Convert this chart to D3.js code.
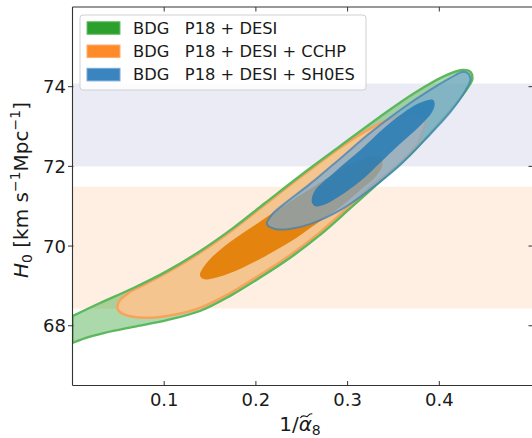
<!DOCTYPE html>
<html><head><meta charset="utf-8">
<script src="https://cdn.jsdelivr.net/npm/d3@7"></script>
<style>
html,body{margin:0;padding:0;background:#fff;}
text{font-family:"DejaVu Sans",sans-serif;fill:#1a1a1a;}
</style></head>
<body>
<svg id="chart" width="532" height="438"></svg>
<script>
// ---------- data ----------
const xTicks = [0.1, 0.2, 0.3, 0.4];
const xTickLabels = ["0.1", "0.2", "0.3", "0.4"];
const yTicks = [68, 70, 72, 74];
const yTickLabels = ["68", "70", "72", "74"];
const xDomain = [0, 0.5];
const yDomain = [66.5, 76];

// H0 priors (bands)
const bandSH0ES = [72.00, 74.08];
const bandCCHP = [68.43, 71.49];

const legendLabels = ["BDG   P18 + DESI", "BDG   P18 + DESI + CCHP", "BDG   P18 + DESI + SH0ES"];

// contour outlines: [1/alpha8, H0]
const greenOuter = [[0,68.24],[0.030,68.57],[0.066,68.94],[0.103,69.37],[0.139,69.87],[0.175,70.45],[0.210,71.08],[0.248,71.76],[0.292,72.51],[0.335,73.24],[0.373,73.84],[0.406,74.27],[0.425,74.42],[0.434,74.37],[0.436,74.19],[0.431,73.97],[0.417,73.54],[0.395,72.96],[0.368,72.29],[0.335,71.61],[0.303,70.95],[0.270,70.28],[0.237,69.70],[0.204,69.20],[0.172,68.75],[0.139,68.37],[0.103,68.14],[0.066,67.97],[0.035,67.82],[0.014,67.69],[0,67.57]];
const orangeOuter = [[0.049,68.44],[0.051,68.62],[0.061,68.82],[0.074,68.98],[0.085,69.11],[0.103,69.33],[0.139,69.83],[0.175,70.41],[0.210,71.04],[0.248,71.72],[0.292,72.47],[0.324,72.94],[0.352,73.24],[0.371,73.29],[0.383,73.21],[0.385,73.06],[0.382,72.89],[0.377,72.59],[0.363,72.21],[0.346,71.86],[0.324,71.48],[0.303,71.03],[0.270,70.35],[0.237,69.77],[0.204,69.27],[0.172,68.82],[0.139,68.45],[0.112,68.28],[0.085,68.20],[0.063,68.24],[0.052,68.34]];
const orangeInner = [[0.139,69.27],[0.146,69.57],[0.166,70.00],[0.194,70.45],[0.226,70.95],[0.259,71.43],[0.292,71.91],[0.314,72.16],[0.328,72.26],[0.336,72.23],[0.338,72.03],[0.330,71.73],[0.314,71.41],[0.292,70.98],[0.264,70.53],[0.237,70.10],[0.204,69.67],[0.177,69.37],[0.155,69.20],[0.143,69.17]];
const blueOuter = [[0.212,70.55],[0.218,70.80],[0.232,71.08],[0.259,71.56],[0.292,72.20],[0.324,72.83],[0.357,73.41],[0.390,73.92],[0.412,74.22],[0.425,74.37],[0.431,74.34],[0.434,74.19],[0.429,73.92],[0.412,73.36],[0.384,72.66],[0.357,72.03],[0.324,71.41],[0.292,70.90],[0.259,70.55],[0.237,70.43],[0.221,70.43]];
const blueInner = [[0.261,71.10],[0.264,71.38],[0.286,71.86],[0.314,72.41],[0.341,72.99],[0.368,73.46],[0.384,73.64],[0.393,73.67],[0.395,73.57],[0.392,73.36],[0.379,73.02],[0.357,72.56],[0.335,72.08],[0.314,71.63],[0.292,71.26],[0.275,71.04],[0.265,71.00]];

// ---------- layout ----------
const svg = d3.select("#chart");
const L = 72.5, R = 533, T = 7, B = 385.5;
const x = d3.scaleLinear().domain(xDomain).range([L, 531]);
const y = d3.scaleLinear().domain(yDomain).range([B, T]);

svg.append("defs").append("clipPath").attr("id", "clip")
  .append("rect").attr("x", L).attr("y", T).attr("width", R - L).attr("height", B - T);
const plot = svg.append("g").attr("clip-path", "url(#clip)");

// bands
plot.append("rect").attr("x", L).attr("width", R - L)
  .attr("y", y(bandSH0ES[1])).attr("height", y(bandSH0ES[0]) - y(bandSH0ES[1]))
  .attr("fill", "rgba(0,0,128,0.08)");
plot.append("rect").attr("x", L).attr("width", R - L)
  .attr("y", y(bandCCHP[1])).attr("height", y(bandCCHP[0]) - y(bandCCHP[1]))
  .attr("fill", "rgba(255,127,14,0.12)");

const closed = d3.line().x(d => x(d[0])).y(d => y(d[1])).curve(d3.curveCatmullRomClosed.alpha(0.5));
const open = d3.line().x(d => x(d[0])).y(d => y(d[1])).curve(d3.curveCatmullRom.alpha(0.5));
const greenPath = open(greenOuter) + "Z";

// green
plot.append("path").attr("d", greenPath).attr("fill", "rgba(44,160,44,0.4)").attr("stroke", "none");
// orange
plot.append("path").attr("d", closed(orangeOuter)).attr("fill", "#f5c590").attr("stroke", "#f8a35c").attr("stroke-width", 2.5);
plot.append("path").attr("d", closed(orangeInner)).attr("fill", "#e5830f").attr("stroke", "none");
// green outline on top
plot.append("path").attr("d", greenPath).attr("fill", "none").attr("stroke", "#5cb85c").attr("stroke-width", 2.4);
// blue
plot.append("path").attr("d", closed(blueOuter)).attr("fill", "rgba(120,170,210,0.7)").attr("stroke", "rgba(60,125,180,0.7)").attr("stroke-width", 2);
plot.append("path").attr("d", closed(blueInner)).attr("fill", "rgba(31,119,180,0.8)").attr("stroke", "none");

// ---------- axes ----------
const axisColor = "#333";
const ax = svg.append("g");
ax.append("line").attr("x1", L).attr("x2", L).attr("y1", T).attr("y2", B).attr("stroke", axisColor).attr("stroke-width", 1.1);
ax.append("line").attr("x1", L).attr("x2", R).attr("y1", B).attr("y2", B).attr("stroke", axisColor).attr("stroke-width", 1.1);
ax.append("line").attr("x1", L).attr("x2", R).attr("y1", T).attr("y2", T).attr("stroke", axisColor).attr("stroke-width", 1.1);
ax.append("line").attr("x1", R).attr("x2", R).attr("y1", T).attr("y2", B).attr("stroke", axisColor).attr("stroke-width", 1.1);

xTicks.forEach((t, i) => {
  ax.append("line").attr("x1", x(t)).attr("x2", x(t)).attr("y1", B).attr("y2", B - 4.5).attr("stroke", axisColor);
  ax.append("line").attr("x1", x(t)).attr("x2", x(t)).attr("y1", T).attr("y2", T + 4.5).attr("stroke", axisColor);
  ax.append("text").attr("x", x(t)).attr("y", 406).attr("text-anchor", "middle")
    .attr("font-size", 18).text(xTickLabels[i]);
});
yTicks.forEach((t, i) => {
  ax.append("line").attr("x1", L - 4.5).attr("x2", L + 1).attr("y1", y(t)).attr("y2", y(t)).attr("stroke", axisColor);
  ax.append("line").attr("x1", R - 4.5).attr("x2", R).attr("y1", y(t)).attr("y2", y(t)).attr("stroke", axisColor);
  ax.append("text").attr("x", 66).attr("y", y(t)).attr("dy", "0.36em").attr("text-anchor", "end")
    .attr("font-size", 18).text(yTickLabels[i]);
});

// y label
const yl = svg.append("text").attr("transform", "translate(28,190) rotate(-90)")
  .attr("text-anchor", "middle").attr("font-size", 20);
yl.append("tspan").attr("font-style", "italic").text("H");
yl.append("tspan").attr("font-size", 14).attr("dy", 4).text("0");
yl.append("tspan").attr("dy", -4).text(" [km s");
yl.append("tspan").attr("font-size", 14).attr("dy", -8).text("\u22121");
yl.append("tspan").attr("dy", 8).text("Mpc");
yl.append("tspan").attr("font-size", 14).attr("dy", -8).text("\u22121");
yl.append("tspan").attr("dy", 8).text("]");

// x label
const xl = svg.append("text").attr("x", 300).attr("y", 431).attr("text-anchor", "middle").attr("font-size", 20);
xl.append("tspan").text("1/");
xl.append("tspan").attr("font-style", "italic").text("\u03b1");
xl.append("tspan").attr("font-size", 14).attr("dy", 3.5).text("8");
const xn = xl.node();
const a0 = xn.getStartPositionOfChar(2), a1 = xn.getEndPositionOfChar(2);
const tx = (a0.x + a1.x) / 2 + 1;
svg.append("path")
  .attr("d", `M${tx - 6},${418} C${tx - 3},${413.5} ${tx},${417.5} ${tx + 1},${416.5} S${tx + 4},${413} ${tx + 6},${414}`)
  .attr("fill", "none").attr("stroke", "#1a1a1a").attr("stroke-width", 1.1);

// ---------- legend ----------
const lg = svg.append("g");
lg.append("rect").attr("x", 80).attr("y", 15).attr("width", 286).attr("height", 75).attr("rx", 3)
  .attr("fill", "rgba(255,255,255,0.85)").attr("stroke", "#d0d0d0");
const legendFill = ["#2ca02c", "#ff8a2a", "#3a85c0"];
const legendStroke = ["#6cc06c", "#ffb070", "#7aaad4"];
legendLabels.forEach((lab, i) => {
  const cy = 28 + i * 23.3;
  lg.append("rect").attr("x", 87).attr("y", cy - 6.3).attr("width", 33).attr("height", 12.6)
    .attr("fill", legendFill[i]).attr("stroke", legendStroke[i]).attr("stroke-width", 1);
  lg.append("text").attr("x", 133).attr("y", cy).attr("dy", "0.36em").attr("font-size", 16.3)
    .attr("xml:space", "preserve").style("white-space", "pre").text(lab);
});
</script>
</body></html>
